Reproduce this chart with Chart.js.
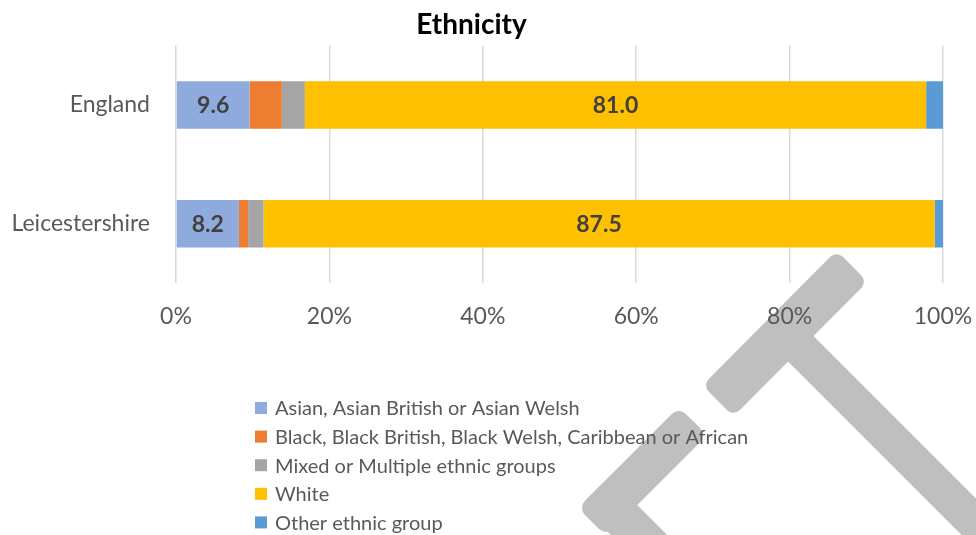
<!DOCTYPE html>
<html>
<head>
<meta charset="utf-8">
<title>Ethnicity</title>
<script src="https://cdn.jsdelivr.net/npm/chart.js@4.4.1/dist/chart.umd.min.js"></script>
<style>
  html, body { margin: 0; padding: 0; background: #fff; }
  #wrap { width: 976px; height: 535px; }
</style>
</head>
<body>
<div id="wrap"><canvas id="ethnicity"></canvas></div>
<script>
// Census 2021 ethnic groups, % of usual residents
const areas = ["England", "Leicestershire"];
const asian = [9.6, 8.2];
const black = [4.2, 1.2];
const mixed = [3.0, 2.0];
const white = [81.0, 87.5];
const other = [2.2, 1.1];
const percentTicks = [0, 20, 40, 60, 80, 100];

const FONT = "Lato";
const TEXT = "#595959";

// values printed in the middle of the bigger segments
const segmentValues = {
  id: "segmentValues",
  afterDatasetsDraw(chart) {
    const { ctx } = chart;
    ctx.save();
    ctx.font = `bold 23px ${FONT}`;
    ctx.fillStyle = "#404040";
    ctx.textAlign = "center";
    ctx.textBaseline = "middle";
    chart.data.datasets.forEach((ds, i) => {
      if (!ds.showValue) return;
      chart.getDatasetMeta(i).data.forEach((bar, j) => {
        const { x, y, base } = bar.getProps(["x", "y", "base"], true);
        ctx.fillText(ds.data[j].toFixed(1), (x + base) / 2, y + 1);
      });
    });
    ctx.restore();
  },
};

// one-column legend under the axis
const listLegend = {
  id: "listLegend",
  afterDraw(chart, args, opts) {
    const { ctx } = chart;
    ctx.save();
    ctx.font = `${opts.size}px ${FONT}`;
    ctx.textBaseline = "middle";
    chart.data.datasets.forEach((ds, i) => {
      const y = opts.top + i * opts.rowHeight;
      ctx.fillStyle = ds.backgroundColor;
      ctx.fillRect(opts.left, y - opts.box / 2, opts.box, opts.box);
      ctx.fillStyle = TEXT;
      ctx.fillText(ds.label, opts.left + opts.box + opts.gap, y + 1);
    });
    ctx.restore();
  },
};

// grey stamp over the lower right corner
function slab(ctx, x1, y1, x2, y2, w, r) {
  const len = Math.hypot(x2 - x1, y2 - y1);
  ctx.save();
  ctx.translate((x1 + x2) / 2, (y1 + y2) / 2);
  ctx.rotate(Math.atan2(y2 - y1, x2 - x1));
  ctx.beginPath();
  ctx.roundRect(-len / 2, -w / 2, len, w, r);
  ctx.fill();
  ctx.restore();
}

const stamp = {
  id: "stamp",
  afterDraw(chart) {
    const { ctx } = chart;
    ctx.save();
    ctx.globalCompositeOperation = "darken";
    ctx.fillStyle = "#bfbfbf";
    slab(ctx, 718, 401, 852, 266, 44, 9);
    slab(ctx, 785, 333, 1060, 608, 36, 0);
    slab(ctx, 693, 421, 592, 522, 40, 10);
    slab(ctx, 595, 491, 760, 656, 40, 10);
    ctx.restore();
  },
};

const series = [
  { label: "Asian, Asian British or Asian Welsh", data: asian, backgroundColor: "#8faadc", showValue: true },
  { label: "Black, Black British, Black Welsh, Caribbean or African", data: black, backgroundColor: "#ed7d31" },
  { label: "Mixed or Multiple ethnic groups", data: mixed, backgroundColor: "#a5a5a5" },
  { label: "White", data: white, backgroundColor: "#ffc000", showValue: true },
  { label: "Other ethnic group", data: other, backgroundColor: "#5b9bd5" },
];

new Chart(document.getElementById("ethnicity"), {
  type: "bar",
  data: {
    labels: areas,
    datasets: series.map(s => ({
      ...s,
      borderWidth: 0,
      categoryPercentage: 0.8,
      barPercentage: 0.5,
    })),
  },
  plugins: [segmentValues, listLegend, stamp],
  options: {
    indexAxis: "y",
    responsive: true,
    maintainAspectRatio: false,
    animation: false,
    layout: { padding: { left: 0, right: 33, top: 0, bottom: 202 } },
    plugins: {
      legend: { display: false },
      tooltip: { enabled: false },
      title: {
        display: true,
        text: "Ethnicity",
        color: "#000",
        font: { family: FONT, size: 28, weight: "bold" },
        padding: { top: 8, bottom: 4 },
      },
      listLegend: { left: 255, top: 408, rowHeight: 28.6, box: 12, gap: 8, size: 20 },
    },
    scales: {
      x: {
        stacked: true,
        min: 0,
        max: 100,
        afterBuildTicks: scale => { scale.ticks = percentTicks.map(v => ({ value: v })); },
        afterFit: scale => {
          scale.height = 50;
          scale.paddingLeft = 0;
          scale.paddingRight = 0;
        },
        grid: { color: "#d9d9d9", lineWidth: 1.5, drawTicks: false },
        border: { display: false },
        ticks: {
          padding: 20,
          color: TEXT,
          font: { family: FONT, size: 23 },
          callback: v => v + "%",
        },
      },
      y: {
        stacked: true,
        afterFit: scale => { scale.width = 176; },
        grid: { display: false, drawTicks: false },
        border: { display: false },
        ticks: {
          padding: 26,
          color: TEXT,
          font: { family: FONT, size: 23 },
        },
      },
    },
  },
});
</script>
</body>
</html>
